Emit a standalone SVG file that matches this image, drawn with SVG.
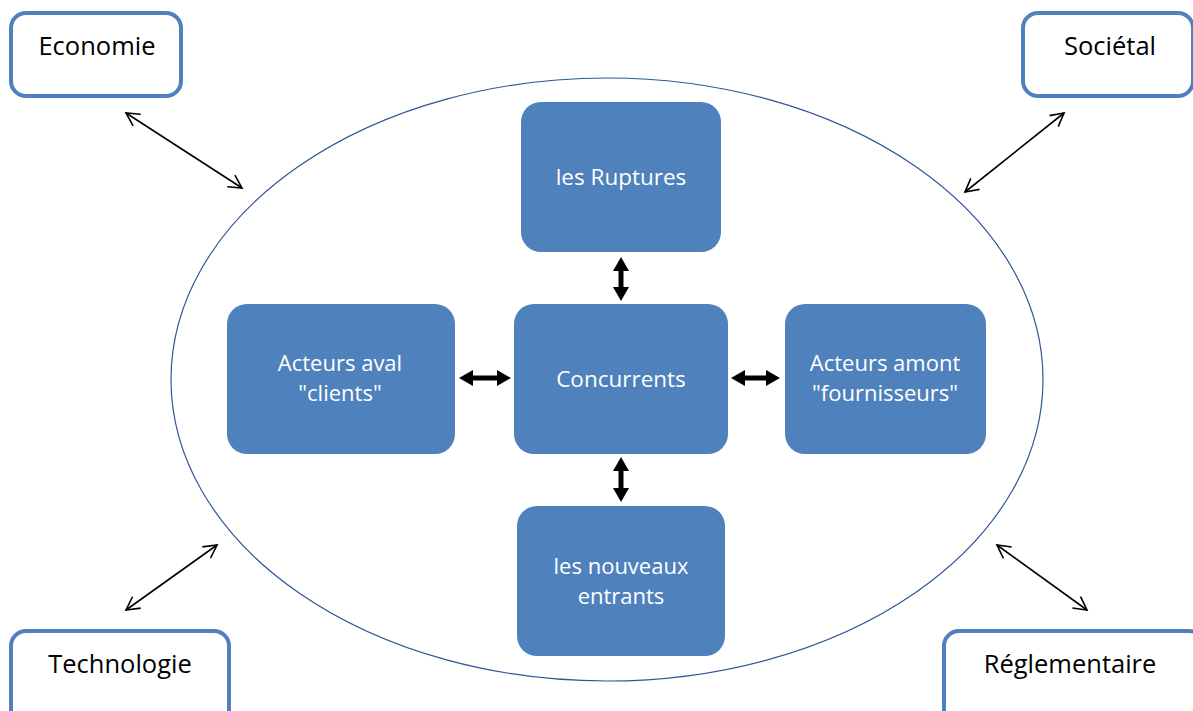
<svg xmlns="http://www.w3.org/2000/svg" width="1193" height="711" viewBox="0 0 1193 711">
<style>
.outer{fill:#ffffff;stroke:#4f81bd;stroke-width:4}
.inner{fill:#4f81bd;stroke:none}
.lbl{font-family:"Open Sans","Liberation Sans",sans-serif;text-anchor:middle}
.dark{fill:#000000;font-size:25.5px}
.light{fill:#ffffff;font-size:22.5px}
.sm{font-size:22px}
.thin{stroke:#000000;stroke-width:1.6;fill:none}
.thick{stroke:#000000;stroke-width:5;fill:none}
</style>
<defs>
<marker id="open" markerUnits="userSpaceOnUse" markerWidth="16" markerHeight="16" refX="14" refY="8" orient="auto-start-reverse" overflow="visible">
<path d="M1,1 L14,8 L1,15" fill="none" stroke="#000000" stroke-width="1.6"/>
</marker>
<marker id="solid" markerUnits="userSpaceOnUse" markerWidth="16" markerHeight="16" refX="0" refY="8" orient="auto-start-reverse" overflow="visible">
<path d="M0,0 L14,8 L0,16 z" fill="#000000"/>
</marker>
</defs>
<rect width="1193" height="711" fill="#ffffff"/>
<ellipse id="environment" cx="607" cy="379.5" rx="436" ry="301.5" fill="none" stroke="#2f5597" stroke-width="1.2"/>
<g id="economie">
<rect class="outer" x="11" y="13" width="170" height="83" rx="15"/>
<text class="lbl dark" x="97" y="55">Economie</text>
</g>
<g id="societal">
<rect class="outer" x="1023" y="13" width="170" height="83" rx="15"/>
<text class="lbl dark" x="1110" y="55">Sociétal</text>
</g>
<g id="technologie">
<rect class="outer" x="11" y="631" width="218" height="100" rx="15"/>
<text class="lbl dark" x="120" y="673">Technologie</text>
</g>
<g id="reglementaire">
<rect class="outer" x="944" y="631" width="260" height="100" rx="15"/>
<text class="lbl dark" x="1070" y="673">Réglementaire</text>
</g>
<g id="ruptures">
<rect class="inner" x="521" y="102" width="200" height="150" rx="20"/>
<text class="lbl light" x="621" y="185">les Ruptures</text>
</g>
<g id="concurrents">
<rect class="inner" x="514" y="304" width="214" height="150" rx="20"/>
<text class="lbl light" x="621" y="387">Concurrents</text>
</g>
<g id="aval">
<rect class="inner" x="227" y="304" width="228" height="150" rx="20"/>
<text class="lbl light sm" x="340" y="371">Acteurs aval</text>
<text class="lbl light sm" x="340" y="401">"clients"</text>
</g>
<g id="amont">
<rect class="inner" x="785" y="304" width="201" height="150" rx="20"/>
<text class="lbl light sm" x="885" y="371">Acteurs amont</text>
<text class="lbl light sm" x="885" y="401">"fournisseurs"</text>
</g>
<g id="nouveaux">
<rect class="inner" x="517" y="506" width="208" height="150" rx="20"/>
<text class="lbl light sm" x="621" y="574">les nouveaux</text>
<text class="lbl light sm" x="621" y="604">entrants</text>
</g>
<g id="connectors">
<line class="thin" x1="126" y1="113" x2="242" y2="188" marker-start="url(#open)" marker-end="url(#open)"/>
<line class="thin" x1="965" y1="192" x2="1064" y2="113" marker-start="url(#open)" marker-end="url(#open)"/>
<line class="thin" x1="217" y1="545" x2="126" y2="610" marker-start="url(#open)" marker-end="url(#open)"/>
<line class="thin" x1="997" y1="545" x2="1087" y2="610" marker-start="url(#open)" marker-end="url(#open)"/>
<line class="thick" x1="621" y1="271" x2="621" y2="287" marker-start="url(#solid)" marker-end="url(#solid)"/>
<line class="thick" x1="621" y1="471" x2="621" y2="488" marker-start="url(#solid)" marker-end="url(#solid)"/>
<line class="thick" x1="473" y1="378" x2="497" y2="378" marker-start="url(#solid)" marker-end="url(#solid)"/>
<line class="thick" x1="745" y1="378" x2="766" y2="378" marker-start="url(#solid)" marker-end="url(#solid)"/>
</g>
</svg>
